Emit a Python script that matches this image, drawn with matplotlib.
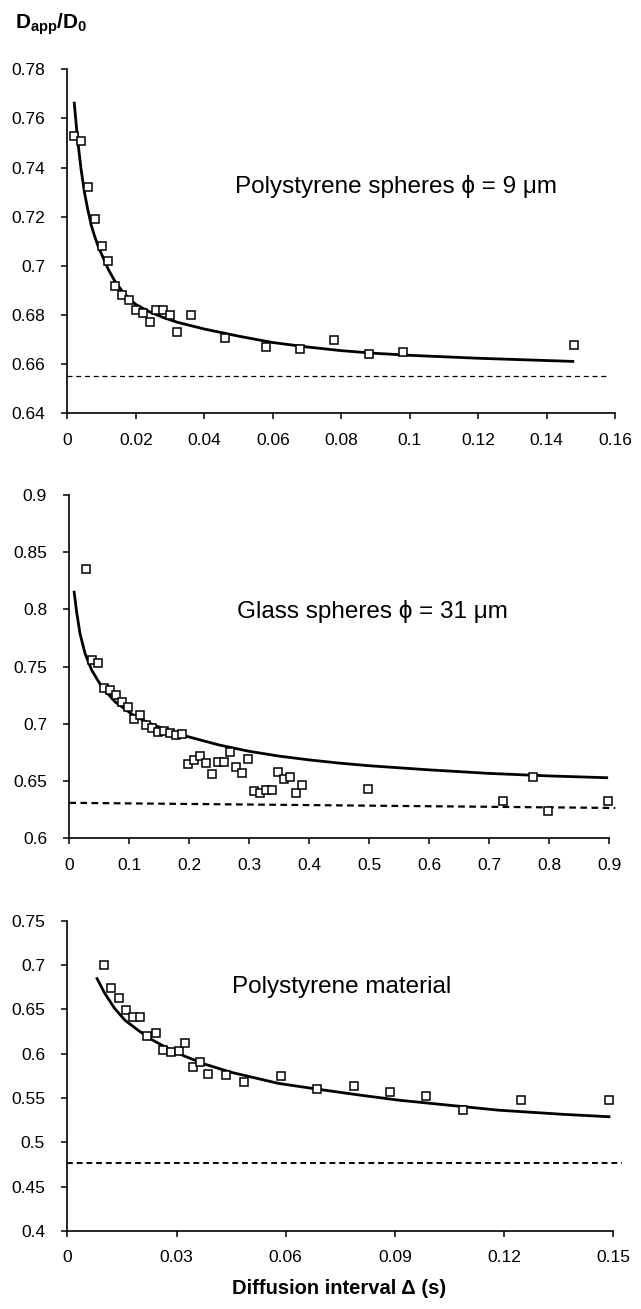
import matplotlib
matplotlib.use("Agg")
import matplotlib.pyplot as plt
from matplotlib.ticker import FixedLocator, FixedFormatter

plt.rcParams['font.family'] = ['Liberation Sans', 'DejaVu Sans']
plt.rcParams['mathtext.fontset'] = 'custom'
plt.rcParams['mathtext.rm'] = 'Liberation Sans'
plt.rcParams['mathtext.bf'] = 'Liberation Sans:bold'

# ---------------- Panel 1: Polystyrene spheres 9 um ----------------
p1_x = [0.002, 0.004, 0.006, 0.008, 0.010, 0.012, 0.014, 0.016, 0.018, 0.020,
        0.022, 0.024, 0.026, 0.028, 0.030, 0.032, 0.036, 0.046, 0.058, 0.068,
        0.078, 0.088, 0.098, 0.148]
p1_y = [0.753, 0.751, 0.732, 0.719, 0.708, 0.702, 0.692, 0.688, 0.686, 0.682,
        0.681, 0.677, 0.682, 0.682, 0.680, 0.673, 0.680, 0.6705, 0.667, 0.666,
        0.670, 0.664, 0.665, 0.668]
p1_fit_x = [0.002, 0.003, 0.004, 0.005, 0.006, 0.007, 0.008, 0.009, 0.010, 0.012,
            0.014, 0.016, 0.018, 0.020, 0.024, 0.028, 0.032, 0.040, 0.050, 0.060,
            0.070, 0.080, 0.090, 0.100, 0.120, 0.148]
p1_fit_y = [0.7668, 0.7515, 0.7395, 0.7300, 0.7228, 0.7165, 0.7120, 0.7080, 0.7048, 0.6985,
            0.6935, 0.6898, 0.6867, 0.6843, 0.6813, 0.6790, 0.6771, 0.6743, 0.6714, 0.6688,
            0.6670, 0.6655, 0.6644, 0.6636, 0.6624, 0.6611]
p1_asym_x = [0.0, 0.158]
p1_asym_y = [0.6553, 0.6553]
p1_xticks = [0, 0.02, 0.04, 0.06, 0.08, 0.10, 0.12, 0.14, 0.16]
p1_xlabels = ['0', '0.02', '0.04', '0.06', '0.08', '0.1', '0.12', '0.14', '0.16']
p1_yticks = [0.64, 0.66, 0.68, 0.70, 0.72, 0.74, 0.76, 0.78]
p1_ylabels = ['0.64', '0.66', '0.68', '0.7', '0.72', '0.74', '0.76', '0.78']
p1_title = 'Polystyrene spheres \u03d5 = 9 \u03bcm'

# ---------------- Panel 2: Glass spheres 31 um ----------------
p2_x = [0.028, 0.038, 0.048, 0.058, 0.068, 0.078, 0.088, 0.098, 0.108, 0.118,
        0.128, 0.138, 0.148, 0.158, 0.168, 0.178, 0.188, 0.198, 0.208, 0.218,
        0.228, 0.238, 0.248, 0.258, 0.268, 0.278, 0.288, 0.298, 0.308, 0.318,
        0.328, 0.338, 0.348, 0.358, 0.368, 0.378, 0.388, 0.498, 0.722, 0.773,
        0.797, 0.897]
p2_y = [0.835, 0.756, 0.753, 0.731, 0.730, 0.725, 0.719, 0.715, 0.704, 0.708,
        0.699, 0.696, 0.693, 0.694, 0.692, 0.690, 0.691, 0.665, 0.668, 0.672,
        0.666, 0.656, 0.667, 0.667, 0.675, 0.662, 0.657, 0.669, 0.641, 0.640,
        0.642, 0.642, 0.658, 0.652, 0.654, 0.640, 0.647, 0.643, 0.633, 0.654,
        0.624, 0.6325]
p2_fit_x = [0.0078, 0.0123, 0.0178, 0.0262, 0.0373, 0.054, 0.0762, 0.104, 0.118, 0.1317,
            0.148, 0.176, 0.200, 0.250, 0.300, 0.350, 0.400, 0.450, 0.500, 0.600,
            0.700, 0.800, 0.898]
p2_fit_y = [0.8163, 0.7975, 0.7790, 0.7616, 0.7470, 0.7324, 0.7193, 0.7086, 0.7045, 0.7010,
            0.6975, 0.6925, 0.6885, 0.6815, 0.6760, 0.6718, 0.6685, 0.6657, 0.6634, 0.6598,
            0.6567, 0.6545, 0.6529]
p2_asym_x = [0.0, 0.91]
p2_asym_y = [0.631, 0.6265]
p2_xticks = [0, 0.1, 0.2, 0.3, 0.4, 0.5, 0.6, 0.7, 0.8, 0.9]
p2_xlabels = ['0', '0.1', '0.2', '0.3', '0.4', '0.5', '0.6', '0.7', '0.8', '0.9']
p2_yticks = [0.6, 0.65, 0.7, 0.75, 0.8, 0.85, 0.9]
p2_ylabels = ['0.6', '0.65', '0.7', '0.75', '0.8', '0.85', '0.9']
p2_title = 'Glass spheres \u03d5 = 31 \u03bcm'

# ---------------- Panel 3: Polystyrene material ----------------
p3_x = [0.010, 0.012, 0.0141, 0.016, 0.018, 0.020, 0.022, 0.0243, 0.0263, 0.0284,
        0.0306, 0.0324, 0.0345, 0.0365, 0.0387, 0.0436, 0.0486, 0.0586, 0.0687, 0.0787,
        0.0886, 0.0986, 0.1086, 0.1246, 0.1489]
p3_y = [0.7003, 0.6737, 0.6624, 0.6492, 0.641, 0.6417, 0.6195, 0.6229, 0.6044, 0.6015,
        0.6033, 0.612, 0.5849, 0.5902, 0.577, 0.5762, 0.5683, 0.5744, 0.560, 0.563,
        0.5567, 0.5525, 0.536, 0.548, 0.548]
p3_fit_x = [0.008, 0.0103, 0.013, 0.0158, 0.0194, 0.0231, 0.0276, 0.0322, 0.0377, 0.045,
            0.058, 0.0687, 0.080, 0.091, 0.1184, 0.1366, 0.1492]
p3_fit_y = [0.6861, 0.668, 0.6511, 0.6379, 0.6266, 0.6161, 0.606, 0.5973, 0.5883, 0.579,
            0.5665, 0.560, 0.5535, 0.5476, 0.5363, 0.5315, 0.5288]
p3_asym_x = [0.0, 0.1525]
p3_asym_y = [0.4762, 0.4762]
p3_xticks = [0, 0.03, 0.06, 0.09, 0.12, 0.15]
p3_xlabels = ['0', '0.03', '0.06', '0.09', '0.12', '0.15']
p3_yticks = [0.4, 0.45, 0.5, 0.55, 0.6, 0.65, 0.7, 0.75]
p3_ylabels = ['0.4', '0.45', '0.5', '0.55', '0.6', '0.65', '0.7', '0.75']
p3_title = 'Polystyrene material'

W, H = 641, 1309
fig = plt.figure(figsize=(W / 100, H / 100), dpi=100)


def px_axes(left, right, top, bottom):
    return fig.add_axes([left / W, 1 - bottom / H, (right - left) / W, (bottom - top) / H])


def setup(ax, xt, xl, yt, yl):
    for s in ('top', 'right'):
        ax.spines[s].set_visible(False)
    for s in ('left', 'bottom'):
        ax.spines[s].set_linewidth(1.2)
    ax.set_xlim(xt[0], xt[-1])
    ax.set_ylim(yt[0], yt[-1])
    ax.xaxis.set_major_locator(FixedLocator(xt))
    ax.xaxis.set_major_formatter(FixedFormatter(xl))
    ax.yaxis.set_major_locator(FixedLocator(yt))
    ax.yaxis.set_major_formatter(FixedFormatter(yl))
    ax.tick_params(axis='both', direction='out', length=4, width=1.1, labelsize=12.5)
    ax.tick_params(axis='y', pad=12)
    ax.tick_params(axis='x', pad=10)
    ax.set_facecolor('white')


def draw(ax, x, y, fx, fy, ax_x, ax_y, dash_lw, dashes):
    ax.plot(ax_x, ax_y, color='black', lw=dash_lw, dashes=dashes, clip_on=False, zorder=2)
    ax.plot(fx, fy, color='black', lw=2.0, solid_capstyle='butt', solid_joinstyle='round',
            clip_on=False, zorder=3)
    ax.plot(x, y, linestyle='none', marker='s', markersize=6.3, markerfacecolor='white',
            markeredgecolor='black', markeredgewidth=1.1, clip_on=False, zorder=4)


ax1 = px_axes(67.3, 615.3, 69.3, 413.3)
setup(ax1, p1_xticks, p1_xlabels, p1_yticks, p1_ylabels)
draw(ax1, p1_x, p1_y, p1_fit_x, p1_fit_y, p1_asym_x, p1_asym_y, 0.9, (4, 3))

ax2 = px_axes(69.3, 609.3, 495.0, 838.3)
setup(ax2, p2_xticks, p2_xlabels, p2_yticks, p2_ylabels)
draw(ax2, p2_x, p2_y, p2_fit_x, p2_fit_y, p2_asym_x, p2_asym_y, 1.6, (3, 2))

ax3 = px_axes(67.3, 613.3, 920.7, 1231.0)
setup(ax3, p3_xticks, p3_xlabels, p3_yticks, p3_ylabels)
draw(ax3, p3_x, p3_y, p3_fit_x, p3_fit_y, p3_asym_x, p3_asym_y, 1.4, (3, 2))

fs_title = 17.5
fig.text(235 / W, 1 - 186 / H, p1_title, fontsize=fs_title, ha='left', va='center')
fig.text(237 / W, 1 - 611 / H, p2_title, fontsize=fs_title, ha='left', va='center')
fig.text(232 / W, 1 - 987 / H, p3_title, fontsize=fs_title, ha='left', va='center')

fig.text(15 / W, 1 - 28 / H, r'$\mathbf{D}_{\mathbf{app}}\mathbf{/D}_{\mathbf{0}}$',
         fontsize=15, ha='left', va='baseline')
fig.text(339 / W, 1 - 1289 / H, 'Diffusion interval \u0394 (s)', fontsize=14.5,
         fontweight='bold', ha='center', va='center')

fig.savefig('out.png', dpi=100, facecolor='white')
